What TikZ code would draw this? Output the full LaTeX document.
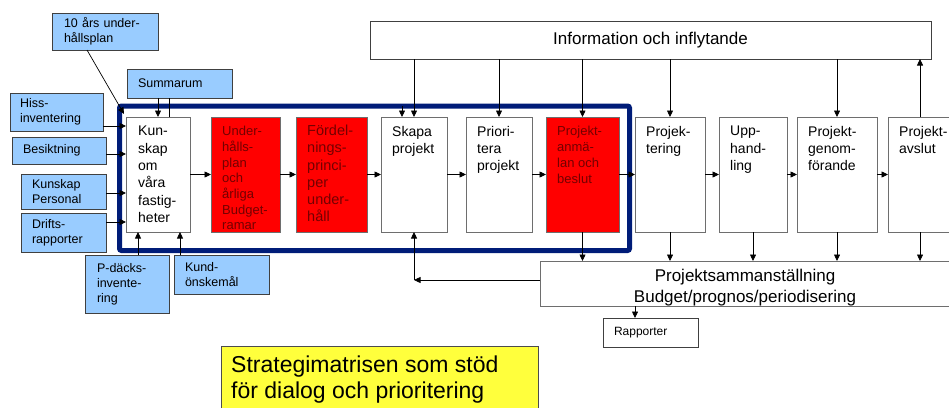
\documentclass[tikz,border=0pt]{standalone}
\usepackage{fontspec}
\setmainfont{Liberation Sans}
\usetikzlibrary{arrows.meta}
\definecolor{bluefill}{RGB}{153,204,255}
\definecolor{navy}{RGB}{0,28,120}
\definecolor{redfill}{RGB}{255,0,0}
\definecolor{redtext}{RGB}{115,0,0}
\definecolor{yell}{RGB}{255,255,60}
\definecolor{boxgray}{RGB}{110,110,110}
\tikzset{
 arr/.style={draw=black, line width=0.7pt, -{Triangle[length=6.5pt,width=6pt]}},
 ln/.style={draw=black, line width=0.7pt},
 pbox/.style={draw=boxgray, line width=0.8pt, fill=white, rectangle, anchor=north west, inner sep=0pt, outer sep=0pt, minimum width=#1, minimum height=115pt},
 rbox/.style={pbox=#1, fill=redfill},
 ptext/.style={anchor=north west, inner sep=0pt, align=left, font=\fontsize{14}{17.3}\selectfont},
 rtext/.style={ptext, text=redtext},
 bbox/.style={draw=black!75, line width=0.7pt, fill=bluefill, rectangle, anchor=north west, inner ysep=0pt, inner xsep=11pt, outer sep=0pt, align=left, font=\fontsize{12.5}{15}\selectfont},
}
\begin{document}
\begin{tikzpicture}[x=1pt,y=-1pt]
\useasboundingbox (0,0) rectangle (949,407);
% blue input boxes
\node[bbox, inner xsep=12pt, text width=82pt, minimum height=37pt] (ten) at (52,13) {10 års under-\\hållsplan};
\node[bbox, text width=83pt, minimum height=29pt] (summarum) at (127,69) {Summarum};
\node[bbox, inner xsep=10pt, text width=73pt, minimum height=38pt] (hiss) at (10,93) {Hiss-\\inventering};
\node[bbox, text width=72pt, minimum height=27pt] (besikt) at (12,137) {Besiktning};
\node[bbox, text width=63pt, minimum height=35pt] (kpers) at (21,174) {Kunskap\\Personal};
\node[bbox, text width=63pt, minimum height=39pt] (drifts) at (21,213) {Drifts-\\rapporter};
\node[bbox, inner xsep=12pt, text width=60pt, minimum height=58pt] (pdack) at (85,255) {P-däcks-\\invente-\\ring};
\node[bbox, text width=73pt, minimum height=39pt] (kund) at (174,255) {Kund-\\önskemål};
% information box
\node[draw=black!75, line width=0.8pt, fill=white, rectangle, anchor=north west, inner sep=0pt, outer sep=0pt, minimum width=561pt, minimum height=38pt, font=\fontsize{17}{20}\selectfont] (info) at (370,21) {Information och inflytande};
% process boxes
\node[pbox=64pt] (kun) at (126,117) {};
\node[rbox=69pt] (under) at (211,117) {};
\node[rbox=71pt] (fordel) at (296,117) {};
\node[pbox=66pt] (skapa) at (381,117) {};
\node[pbox=66pt] (prio) at (466,117) {};
\node[rbox=73pt] (anm) at (546,117) {};
\node[pbox=70pt] (proj) at (635,117) {};
\node[pbox=68pt] (upph) at (719,117) {};
\node[pbox=80pt] (genom) at (797,117) {};
\node[pbox=64pt] (avslut) at (888,117) {};
% texts of process boxes
\node[ptext] (kunT) at ([shift={(12pt,-9pt)}]kun.north west) {Kun-\\skap\\om\\våra\\fastig-\\heter};
\node[rtext, font=\fontsize{13}{15.7}\selectfont] (underT) at ([shift={(11pt,-9pt)}]under.north west) {Under-\\hålls-\\plan\\och\\årliga\\Budget-\\ramar};
\node[rtext, font=\fontsize{14.5}{17.2}\selectfont] (fordelT) at ([shift={(11pt,-8pt)}]fordel.north west) {Fördel-\\nings-\\princi-\\per\\under-\\håll};
\node[ptext] (skapaT) at ([shift={(11pt,-9pt)}]skapa.north west) {Skapa\\projekt};
\node[ptext] (prioT) at ([shift={(11pt,-9pt)}]prio.north west) {Priori-\\tera\\projekt};
\node[rtext, font=\fontsize{13}{16}\selectfont] (anmT) at ([shift={(11pt,-9pt)}]anm.north west) {Projekt-\\anmä-\\lan och\\beslut};
\node[ptext] (projT) at ([shift={(11pt,-9pt)}]proj.north west) {Projek-\\tering};
\node[ptext] (upphT) at ([shift={(11pt,-9pt)}]upph.north west) {Upp-\\hand-\\ling};
\node[ptext] (genomT) at ([shift={(11pt,-9pt)}]genom.north west) {Projekt-\\genom-\\förande};
\node[ptext] (avslutT) at ([shift={(11pt,-9pt)}]avslut.north west) {Projekt-\\avslut};
% summary box
\node[draw=boxgray, line width=0.8pt, fill=white, rectangle, anchor=north west, inner sep=0pt, outer sep=0pt, minimum width=415pt, minimum height=45pt] (summ) at (540,261) {};
\node[align=center, inner sep=0pt, font=\fontsize{17}{21}\selectfont] (summT) at (745,288) {Projektsammanställning\\Budget/prognos/periodisering};
% rapporter
\node[draw=black!75, line width=0.7pt, fill=white, rectangle, anchor=north west, inner ysep=0pt, inner xsep=11pt, outer sep=0pt, text width=73pt, minimum height=29pt, align=left, font=\fontsize{12}{14}\selectfont] (rap) at (603,318) {Rapporter};
% yellow box
\node[draw=black!70, line width=0.8pt, fill=yell, rectangle, anchor=north west, inner sep=0pt, outer sep=0pt, minimum width=317pt, minimum height=75pt] (yel) at (221,346) {};
\node[anchor=north west, inner sep=0pt, align=left, font=\fontsize{23}{26}\selectfont] (yelT) at (231,356) {Strategimatrisen som stöd\\för dialog och prioritering};
% navy frame
\node[draw=navy, line width=5pt, rounded corners=2pt, rectangle, anchor=north west, inner sep=0pt, outer sep=0pt, minimum width=510pt, minimum height=144.5pt] (frame) at (119.5,106) {};
% flow arrows along the row
\draw[arr] (kun.east) -- (under.west);
\draw[arr] (under.east) -- (fordel.west);
\draw[arr] (fordel.east) -- (skapa.west);
\draw[arr] (skapa.east) -- (prio.west);
\draw[arr] (prio.east) -- (anm.west);
\draw[arr] (anm.east) -- (proj.west);
\draw[arr] (proj.east) -- (upph.west);
\draw[arr] (upph.east) -- (genom.west);
\draw[arr] (genom.east) -- (avslut.west);
% information connections
\draw[arr] (info.south -| skapa.north) -- (skapa.north);
\draw[arr] (info.south -| prio.north) -- (prio.north);
\draw[arr] (info.south -| anm.north) -- (anm.north);
\draw[arr] (info.south -| proj.north) -- (proj.north);
\draw[arr] (info.south -| genom.north) -- (genom.north);
\draw[arr] (avslut.north) -- (avslut.north |- info.south);
\path ([xshift=-12pt]skapa.north) coordinate (sk2);
\draw[arr] (sk2 |- frame.north) -- (sk2);
% to summary
\draw[arr] (anm.south) -- (anm.south |- summ.north);
\draw[arr] (proj.south) -- (proj.south |- summ.north);
\draw[arr] (upph.south) -- (upph.south |- summ.north);
\draw[arr] (genom.south) -- (genom.south |- summ.north);
\draw[arr] (avslut.south) -- (avslut.south |- summ.north);
% summary back to Skapa projekt
\path ([yshift=3.5pt]summ.west) coordinate (s1);
\coordinate (c1) at (s1 -| skapa.south);
\draw[arr] (s1) -- (c1);
\draw[arr] (c1) -- (skapa.south);
% summary to Rapporter
\path ([xshift=32pt]rap.north west) coordinate (rtop);
\draw[arr] (rtop |- summ.south) -- (rtop);
% inputs into Kunskap
\draw[arr] ([xshift=35pt]ten.south west) -- ([shift={(-2pt,3pt)}]kun.north west);
\path ([xshift=31pt]summarum.south west) coordinate (sm1);
\draw[arr] (sm1) -- (sm1 |- kun.north);
\path ([xshift=42pt]summarum.south west) coordinate (sm2);
\draw[ln] (sm2) -- (sm2 |- kun.north);
\path ([yshift=-14pt]hiss.east) coordinate (h1);
\draw[arr] (h1) -- (h1 -| kun.west);
\path ([yshift=-3.5pt]besikt.east) coordinate (b1);
\draw[arr] (b1) -- (b1 -| kun.west);
\path ([yshift=-1.5pt]kpers.east) coordinate (k1);
\draw[arr] (k1) -- (k1 -| kun.west);
\path ([yshift=10.5pt]drifts.east) coordinate (d1);
\draw[arr] (d1) -- (d1 -| kun.west);
\path ([xshift=11pt]pdack.north) coordinate (p1);
\draw[arr] (p1) -- (p1 |- kun.south);
\path ([xshift=6pt]kund.north west) coordinate (q1);
\draw[arr] (q1) -- (q1 |- kun.south);
\end{tikzpicture}
\end{document}
